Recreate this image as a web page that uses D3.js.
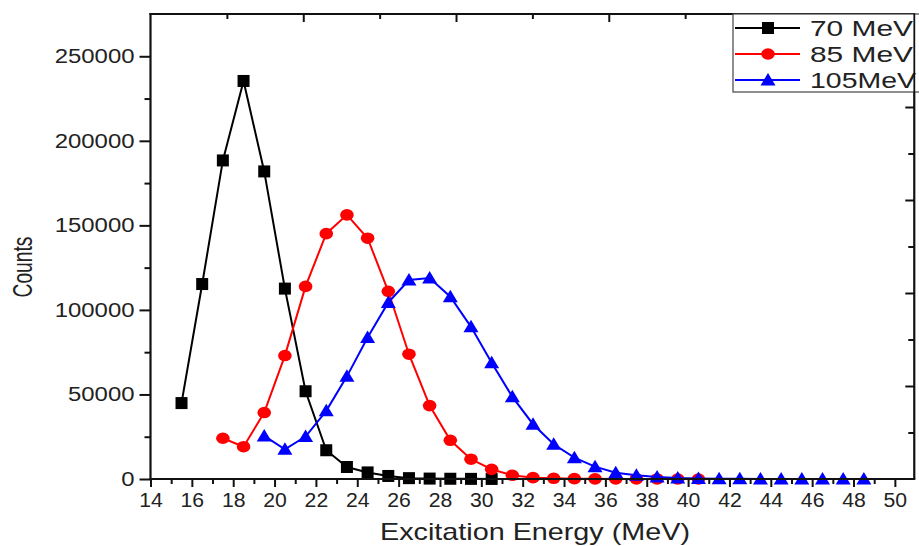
<!DOCTYPE html>
<html>
<head>
<meta charset="utf-8">
<script src="https://cdn.jsdelivr.net/npm/d3@7"></script>
<style>
  html, body { margin: 0; padding: 0; background: #fff; }
  svg { display: block; font-family: "Liberation Sans", Arial, sans-serif; }
</style>
</head>
<body>
<svg id="chart" width="919" height="546"></svg>
<script>
// ---- data ----
const seriesNames = ["70 MeV", "85 MeV", "105MeV"];
const x70 = d3.range(15.5, 31, 1);      // 15.5 .. 30.5
const y70 = [44900, 115300, 188400, 235400, 181900, 112600, 51900, 17000, 7100, 3900, 1800, 500, 250, 150, 80, 40];
const x85 = d3.range(17.5, 41, 1);      // 17.5 .. 40.5
const y85 = [24100, 19100, 39300, 73000, 113900, 145100, 156200, 142400, 111000, 73800, 43400, 22900, 11700, 5700, 2200, 800, 400, 200, 100, 50, 30, 20, 10, 5];
const x105 = d3.range(19.5, 49, 1);     // 19.5 .. 48.5
const y105 = [25500, 17600, 25100, 40300, 60700, 83700, 104400, 117700, 118900, 107800, 90000, 68700, 48600, 32400, 20500, 12600, 7300, 3700, 2200, 1200, 600, 300, 150, 80, 40, 20, 10, 5, 3, 1];
const xTickValues = d3.range(14, 51, 2);
const yTickValues = [0, 50000, 100000, 150000, 200000, 250000];
const xTitle = "Excitation Energy (MeV)";
const yTitle = "Counts";

// ---- layout ----
const svg = d3.select("#chart");
const L = 150.5, R = 914.3, T = 14, B = 479;
const x = d3.scaleLinear().domain([14, 50.94]).range([L, R]);
const y = d3.scaleLinear().domain([0, 275000]).range([B, T]);
const xMirror = d3.scaleLinear().domain([0, 10]).range([L, R]);
const yMirror = d3.scaleLinear().domain([0, 10]).range([B, T]);

const series = [
  { name: seriesNames[0], xs: x70, ys: y70, color: "#000000", shape: "square" },
  { name: seriesNames[1], xs: x85, ys: y85, color: "#ff0000", shape: "circle" },
  { name: seriesNames[2], xs: x105, ys: y105, color: "#0000ff", shape: "triangle" }
];

function drawMarker(g, shape, color, cx, cy) {
  if (shape === "square") {
    g.append("rect").attr("x", cx - 6).attr("y", cy - 6).attr("width", 12).attr("height", 12).attr("fill", color);
  } else if (shape === "circle") {
    g.append("ellipse").attr("cx", cx).attr("cy", cy).attr("rx", 6.8).attr("ry", 5.8).attr("fill", color);
  } else {
    g.append("path").attr("d", `M${cx},${cy - 7}L${cx + 7.5},${cy + 5.5}L${cx - 7.5},${cy + 5.5}Z`).attr("fill", color);
  }
}

// ---- series ----
const plot = svg.append("g");
const line = d3.line().x(d => x(d[0])).y(d => y(d[1]));
series.forEach(s => {
  const pts = s.xs.map((v, i) => [v, s.ys[i]]);
  const g = plot.append("g");
  g.append("path").datum(pts).attr("d", line).attr("fill", "none")
    .attr("stroke", s.color).attr("stroke-width", 2);
  pts.forEach(p => drawMarker(g, s.shape, s.color, x(p[0]), y(p[1])));
});

// ---- axes ----
const axisColor = "#111";
// bottom axis
const gx = svg.append("g").attr("transform", `translate(0,${B})`)
  .call(d3.axisBottom(x).tickValues(xTickValues).tickSize(8).tickPadding(6).tickFormat(d3.format("d")));
gx.append("g").call(d3.axisBottom(x).tickValues(d3.range(15, 50, 2)).tickSize(5).tickFormat(""));
gx.selectAll(".domain").remove();
gx.selectAll("line").attr("stroke", axisColor).attr("stroke-width", 2);
gx.selectAll("text").attr("fill", "#222").style("font-size", "19.5px")
  .attr("textLength", d => String(d).length * 11.8).attr("lengthAdjust", "spacingAndGlyphs");

// left axis
const gy = svg.append("g").attr("transform", `translate(${L},0)`)
  .call(d3.axisLeft(y).tickValues(yTickValues).tickSize(11).tickPadding(5).tickFormat(d3.format("d")));
gy.append("g").call(d3.axisLeft(y).tickValues([25000, 75000, 125000, 175000, 225000]).tickSize(6).tickFormat(""));
gy.selectAll(".domain").remove();
gy.selectAll("line").attr("stroke", axisColor).attr("stroke-width", 2);
gy.selectAll("text").attr("fill", "#222").style("font-size", "19.5px")
  .attr("textLength", d => String(d).length * 13.3).attr("lengthAdjust", "spacingAndGlyphs");

// top mirror ticks (inward)
const gt = svg.append("g").attr("transform", `translate(0,${T})`)
  .call(d3.axisBottom(xMirror).tickValues(d3.range(1, 10)).tickSize(0).tickFormat(""));
gt.selectAll(".domain").remove();
gt.selectAll(".tick line").attr("y2", d => d % 2 === 0 ? 8 : 5).attr("stroke", axisColor).attr("stroke-width", 2);

// right mirror ticks (inward)
const gr = svg.append("g").attr("transform", `translate(${R},0)`)
  .call(d3.axisLeft(yMirror).tickValues(d3.range(1, 10)).tickSize(0).tickFormat(""));
gr.selectAll(".domain").remove();
gr.selectAll(".tick line").attr("x2", d => d % 2 === 0 ? -9 : -6).attr("stroke", axisColor).attr("stroke-width", 2);

// frame lines
svg.append("line").attr("x1", L).attr("x2", L).attr("y1", T - 1).attr("y2", B + 1).attr("stroke", axisColor).attr("stroke-width", 2.2);
svg.append("line").attr("x1", L - 1).attr("x2", R + 1).attr("y1", B).attr("y2", B).attr("stroke", axisColor).attr("stroke-width", 2.2);
svg.append("line").attr("x1", L - 1).attr("x2", R + 1).attr("y1", T).attr("y2", T).attr("stroke", axisColor).attr("stroke-width", 1.8);
svg.append("line").attr("x1", R).attr("x2", R).attr("y1", T).attr("y2", B).attr("stroke", axisColor).attr("stroke-width", 1.8);

// ---- titles ----
svg.append("text").attr("x", 535).attr("y", 540).attr("text-anchor", "middle")
  .style("font-size", "24px").attr("fill", "#222")
  .attr("textLength", 310).attr("lengthAdjust", "spacingAndGlyphs").text(xTitle);
svg.append("text").attr("transform", "translate(32,267) rotate(-90)").attr("text-anchor", "middle")
  .style("font-size", "27px").attr("fill", "#222")
  .attr("textLength", 61).attr("lengthAdjust", "spacingAndGlyphs").text(yTitle);

// ---- legend ----
const leg = svg.append("g");
leg.append("rect").attr("x", 733).attr("y", T).attr("width", 200).attr("height", 78)
  .attr("fill", "#fff").attr("stroke", "#444").attr("stroke-width", 1.2);
const rowY = [28, 54, 80];
series.forEach((s, i) => {
  const ry = rowY[i];
  leg.append("line").attr("x1", 735).attr("x2", 800).attr("y1", ry).attr("y2", ry)
    .attr("stroke", s.color).attr("stroke-width", 2);
  drawMarker(leg, s.shape, s.color, 768, ry);
  leg.append("text").attr("x", 810).attr("y", ry + 8).style("font-size", "22px").attr("fill", "#222")
    .attr("textLength", i === 2 ? 106 : 103).attr("lengthAdjust", "spacingAndGlyphs").text(s.name);
});
// redraw right border over legend
svg.append("line").attr("x1", R).attr("x2", R).attr("y1", T).attr("y2", B).attr("stroke", axisColor).attr("stroke-width", 1.8);
</script>
</body>
</html>
